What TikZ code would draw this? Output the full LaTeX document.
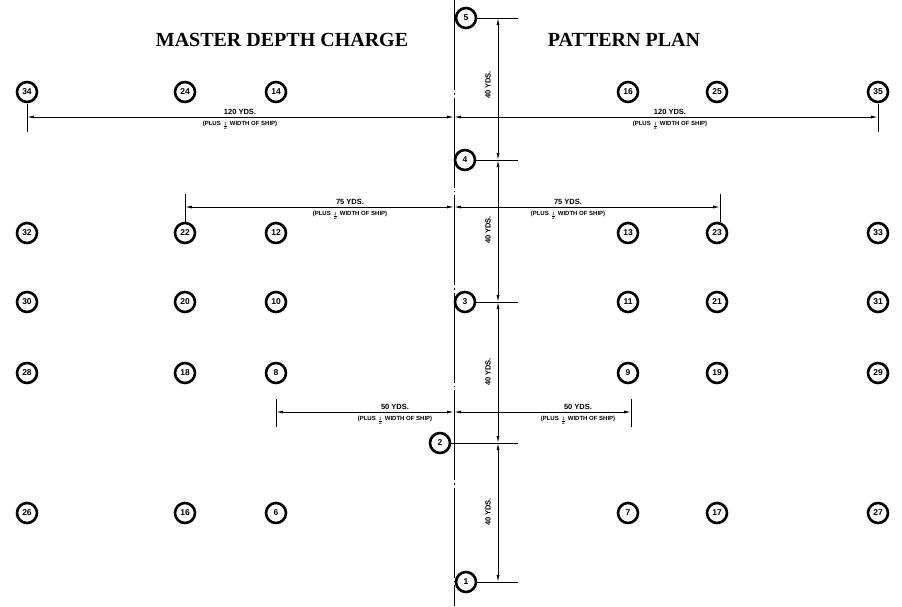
\documentclass[tikz,border=0pt]{standalone}
\usepackage{fontspec}
\setmainfont{Liberation Serif}
\newfontfamily\lab{Liberation Sans}
\usetikzlibrary{arrows.meta}
\newcommand{\hlf}{\raisebox{-1.5pt}{$\scriptscriptstyle\frac{1}{2}$}}
\begin{document}
\begin{tikzpicture}[x=1pt,y=-1pt,
  chg/.style={circle,draw,line width=2.6pt,minimum size=20pt,inner sep=0pt,font=\lab\bfseries\fontsize{8.5}{8.5}\selectfont},
  dim/.style={line width=0.9pt,{Latex[length=7pt,width=3pt]}-{Latex[length=7pt,width=3pt]}},
  tk/.style={line width=0.9pt},
  lt/.style={font=\lab\bfseries\fontsize{7.5}{7.5}\selectfont,inner sep=1pt},
  ls/.style={font=\lab\bfseries\fontsize{6}{6}\selectfont,inner sep=0pt}]
\useasboundingbox (0,0) rectangle (902,606);
\node[font=\bfseries\fontsize{20}{20}\selectfont] (t1) at (282,40) {MASTER DEPTH CHARGE};
\node[font=\bfseries\fontsize{20}{20}\selectfont] (t2) at (624,40) {PATTERN PLAN};
% centre line
\coordinate (ct) at (454,0); \coordinate (cb) at (454,606);
\draw[line width=0.9pt,dash pattern=on 90pt off 3pt on 1.5pt off 3pt] (ct) -- (cb);
% side circles
\foreach \n/\x/\y in {34/27/92,24/185/92,14/276/92,16/628/92,25/717/92,35/878/92,
  32/27/233,22/185/233,12/276/233,13/628/233,23/717/233,33/878/233,
  30/27/302,20/185/302,10/276/302,11/628/302,21/717/302,31/878/302,
  28/27/373,18/185/373,8/276/373,9/628/373,19/717/373,29/878/373,
  26/27/513,16/185/513,6/276/513,7/628/513,17/717/513,27/878/513}
  \node[chg] (c\n) at (\x,\y) {\n};
% centre circles and ticks
\foreach \n/\x/\y in {5/466/18,4/465/160,3/465/302,2/440/443,1/466/582}{
  \node[chg] (m\n) at (\x,\y) {\n};
  \coordinate (e\n) at (518,\y);
  \coordinate (v\n) at (498,\y);
  \draw[tk] (m\n) -- (e\n);}
\foreach \a/\b/\ly in {5/4/85,4/3/230,3/2/372,2/1/512}{
  \draw[dim] (v\a) -- (v\b);
  \node[lt,rotate=90] (y\a) at (488,\ly) {40 YDS.};}
% horizontal dims
\foreach \k/\xl/\xr/\y/\t/\lx/\rx in {a/27/878/117/120/240/670, b/185/720/207/75/350/568, c/276/631/412/50/395/578}{
  \coordinate (l\k) at (\xl,\y); \coordinate (r\k) at (\xr,\y); \coordinate (m\k) at (454,\y);
  \coordinate (lt\k) at (\xl,\y-13); \coordinate (lb\k) at (\xl,\y+15);
  \coordinate (rt\k) at (\xr,\y-13); \coordinate (rb\k) at (\xr,\y+15);
  \draw[tk] (lt\k) -- (lb\k); \draw[tk] (rt\k) -- (rb\k);
  \draw[dim] (l\k) -- (m\k); \draw[dim] (m\k) -- (r\k);
  \node[lt,anchor=south] (ta\k) at (\lx,\y-1) {\t\ YDS.};
  \node[ls,anchor=north] (pa\k) at (\lx,\y+4) {(PLUS \hlf\ WIDTH OF SHIP)};
  \node[lt,anchor=south] (tb\k) at (\rx,\y-1) {\t\ YDS.};
  \node[ls,anchor=north] (pb\k) at (\rx,\y+4) {(PLUS \hlf\ WIDTH OF SHIP)};}
\end{tikzpicture}
\end{document}
